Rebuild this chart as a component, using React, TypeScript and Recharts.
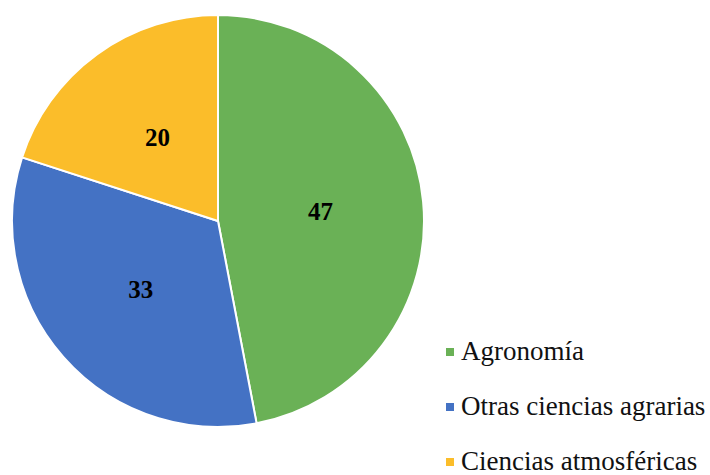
import React from 'react';
import { PieChart, Pie, Cell, Legend } from 'recharts';

const categories = ['Agronomía', 'Otras ciencias agrarias', 'Ciencias atmosféricas'];
const values = [47, 33, 20];
const colors = ['#6ab156', '#4472c4', '#fbbd2a'];

const data = categories.map((name, i) => ({ name, value: values[i], color: colors[i] }));

const SERIF = '"Liberation Serif", Tinos, "Times New Roman", "DejaVu Serif", serif';
const RADIAN = Math.PI / 180;

const renderLabel = ({ cx, cy, midAngle, outerRadius, value }: any) => {
  const r = outerRadius * 0.5;
  const x = cx + r * Math.cos(-midAngle * RADIAN);
  const y = cy + r * Math.sin(-midAngle * RADIAN);
  return (
    <text
      x={x}
      y={y}
      fill="#000"
      textAnchor="middle"
      dominantBaseline="central"
      fontFamily={SERIF}
      fontWeight="bold"
      fontSize={25}
    >
      {value}
    </text>
  );
};

// legend drawn straight from the data so the order stays as in the source
const LegendContent = () => (
  <div style={{ fontFamily: SERIF, fontSize: 27, color: '#111', lineHeight: 1 }}>
    {data.map((d) => (
      <div key={d.name} style={{ display: 'flex', alignItems: 'center', height: 55 }}>
        <span style={{ width: 8, height: 8, background: d.color, marginRight: 7, display: 'inline-block' }} />
        <span>{d.name}</span>
      </div>
    ))}
  </div>
);

export default function App() {
  return (
    <div style={{ position: 'absolute', left: 0, top: 0, width: 710, height: 475, background: '#fff' }}>
      <PieChart width={710} height={475} margin={{ top: 0, right: 0, bottom: 0, left: 0 }}>
        <Pie
          data={data}
          dataKey="value"
          nameKey="name"
          cx={218}
          cy={221}
          outerRadius={206}
          startAngle={90}
          endAngle={-270}
          stroke="#fff"
          strokeWidth={2}
          labelLine={false}
          label={renderLabel}
          isAnimationActive={false}
        >
          {data.map((d) => (
            <Cell key={d.name} fill={d.color} />
          ))}
        </Pie>
        <Legend
          content={<LegendContent />}
          layout="vertical"
          wrapperStyle={{ left: 446, top: 324, width: 264 }}
        />
      </PieChart>
    </div>
  );
}
